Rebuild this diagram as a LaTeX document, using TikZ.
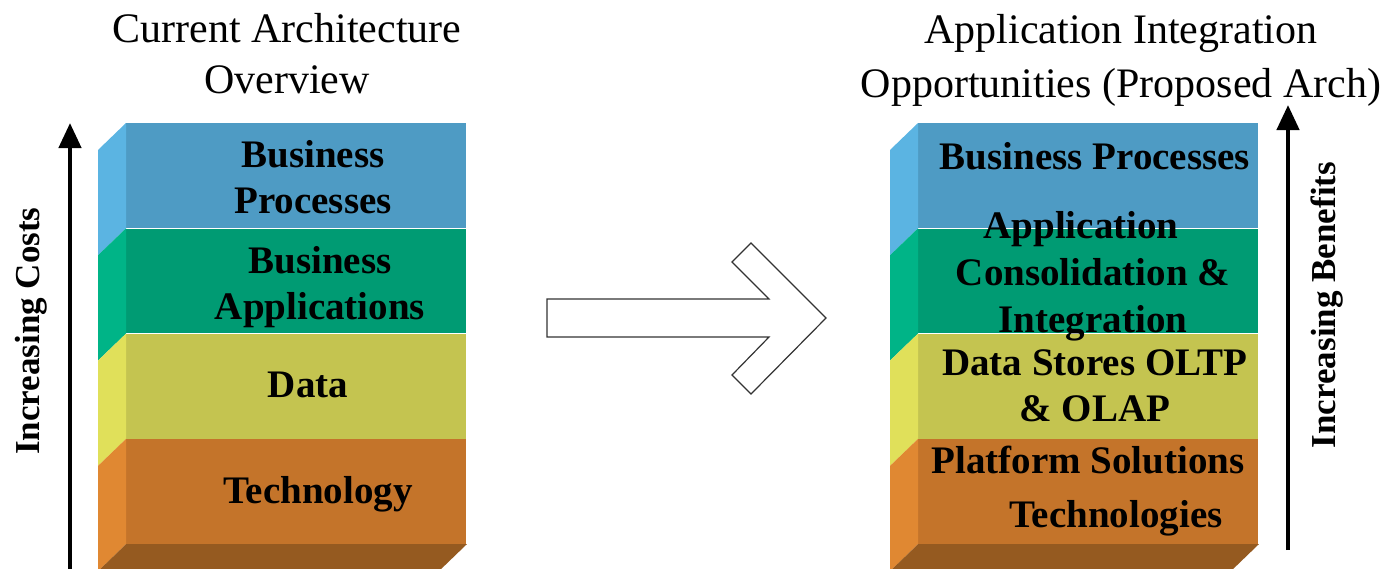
\documentclass[tikz,border=0pt]{standalone}
\usepackage{fontspec}
\setmainfont{Liberation Serif}
\usetikzlibrary{positioning,arrows.meta}

\definecolor{procfront}{HTML}{4E9BC4}
\definecolor{procside}{HTML}{5BB4E2}
\definecolor{appfront}{HTML}{009B73}
\definecolor{appside}{HTML}{00B487}
\definecolor{datafront}{HTML}{C4C450}
\definecolor{dataside}{HTML}{E0E05A}
\definecolor{techfront}{HTML}{C4742A}
\definecolor{techside}{HTML}{E08832}
\definecolor{basebrown}{HTML}{955A20}

\begin{document}
\begin{tikzpicture}[
		x=0.5pt, y=-0.5pt,
		stackbox/.style={rectangle, minimum width=170pt, minimum height=52.25pt, inner sep=0pt},
		boxtext/.style={font=\fontsize{19.5}{23}\selectfont\bfseries, align=center, inner sep=0pt},
		heading/.style={font=\fontsize{21}{25.5}\selectfont, align=center, inner sep=0pt},
		sidetext/.style={font=\fontsize{17.5}{21}\selectfont\bfseries, rotate=90, inner sep=0pt},
		updir/.style={line width=2.2pt, -{Triangle[length=12.5pt, width=11pt]}}
	]
	\useasboundingbox (0,0) rectangle (1395,568);

	% titles
	\node[heading] (lhead) at (287,54) {Current Architecture\\Overview};
	\node[heading, font=\fontsize{21}{27}\selectfont] (rhead) at (1121,60) {Application Integration\\Opportunities (Proposed Arch)};

	% current stack
	\node[stackbox, fill=procfront, anchor=north west] (lproc) at (126,123) {};
	\node[stackbox, fill=appfront, below=0pt of lproc] (lapps) {};
	\node[stackbox, fill=datafront, below=0pt of lapps] (ldata) {};
	\node[stackbox, fill=techfront, below=0pt of ldata] (ltech) {};
	\fill[procside] (lproc.north west) -- (lproc.south west) -- ++(-28,27) -- ([shift={(-28,27)}]lproc.north west) -- cycle;
	\fill[appside] (lapps.north west) -- (lapps.south west) -- ++(-28,27) -- ([shift={(-28,27)}]lapps.north west) -- cycle;
	\fill[dataside] (ldata.north west) -- (ldata.south west) -- ++(-28,27) -- ([shift={(-28,27)}]ldata.north west) -- cycle;
	\fill[techside] (ltech.north west) -- (ltech.south west) -- ++(-28,27) -- ([shift={(-28,27)}]ltech.north west) -- cycle;
	\fill[basebrown] (ltech.south west) -- (ltech.south east) -- ++(-28,27) -- ([shift={(-28,27)}]ltech.south west) -- cycle;
	\node[boxtext] (lproctext) at (313,177) {Business\\Processes};
	\node[boxtext] (lappstext) at (320,287) {Business\\Applications};
	\node[boxtext] (ldatatext) at (308,385) {Data};
	\node[boxtext] (ltechtext) at (318,494) {Technology};

	% proposed stack
	\node[stackbox, fill=procfront, anchor=north west] (rproc) at (918,123) {};
	\node[stackbox, fill=appfront, below=0pt of rproc] (rapps) {};
	\node[stackbox, fill=datafront, below=0pt of rapps] (rdata) {};
	\node[stackbox, fill=techfront, below=0pt of rdata] (rtech) {};
	\fill[procside] (rproc.north west) -- (rproc.south west) -- ++(-28,27) -- ([shift={(-28,27)}]rproc.north west) -- cycle;
	\fill[appside] (rapps.north west) -- (rapps.south west) -- ++(-28,27) -- ([shift={(-28,27)}]rapps.north west) -- cycle;
	\fill[dataside] (rdata.north west) -- (rdata.south west) -- ++(-28,27) -- ([shift={(-28,27)}]rdata.north west) -- cycle;
	\fill[techside] (rtech.north west) -- (rtech.south west) -- ++(-28,27) -- ([shift={(-28,27)}]rtech.north west) -- cycle;
	\fill[basebrown] (rtech.south west) -- (rtech.south east) -- ++(-28,27) -- ([shift={(-28,27)}]rtech.south west) -- cycle;
	\node[boxtext] (rproctext) at (1095,156) {Business Processes};
	\node[boxtext, font=\fontsize{19.5}{23.5}\selectfont\bfseries] (rappstext) at (1093,276) {Application\hspace*{12pt}\\Consolidation \&\\Integration};
	\node[boxtext] (rdatatext) at (1095,386) {Data Stores OLTP\\\& OLAP};
	\node[boxtext] (rtechtext) at (1088,491) {Platform Solutions\\[4pt]\hspace*{28pt}Technologies};

	% transition arrow
	\draw[line width=0.6pt, draw=black!80] (547,299) -- (769,299) -- (732,262) -- (751,243) -- (826,318)
		-- (751,394) -- (732,375) -- (769,337) -- (547,337) -- cycle;

	% side scales
	\coordinate (costlow) at (70,570);
	\coordinate (costtop) at (70,123);
	\coordinate (benlow) at (1288,550);
	\coordinate (bentop) at (1288,105);
	\draw[updir] (costlow) -- (costtop);
	\draw[updir] (benlow) -- (bentop);
	\node[sidetext] (costlbl) at (31,331) {Increasing Costs};
	\node[sidetext] (benlbl) at (1327,305) {Increasing Benefits};
\end{tikzpicture}
\end{document}
